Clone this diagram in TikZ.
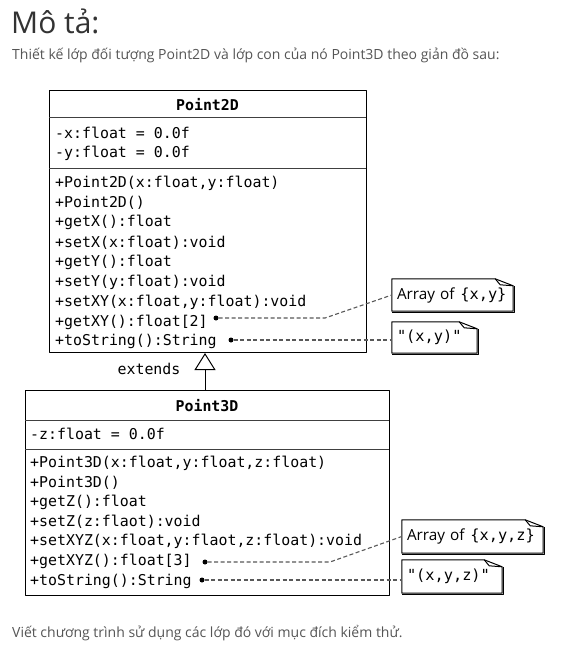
\documentclass[tikz,border=0pt]{standalone}
\usepackage{fontspec}
\setmainfont{Open Sans}
\setmonofont{DejaVu Sans Mono}
\usetikzlibrary{arrows.meta}
\definecolor{headgray}{HTML}{333333}
\definecolor{txtgray}{HTML}{555555}
\tikzset{
  mono/.style={font=\ttfamily\fontsize{14.9}{18}\selectfont, anchor=west, inner sep=0pt},
  head/.style={font=\ttfamily\bfseries\fontsize{14.9}{18}\selectfont, inner sep=0pt},
  classbox/.style={draw, line width=1pt, anchor=north west, inner sep=0pt},
  divider/.style={black!75, line width=1pt},
  dot/.style={circle, fill, inner sep=0pt, minimum size=5pt},
  link/.style={gray!70!black, line width=1.1pt, dash pattern=on 4pt off 2.5pt},
  notebox/.style={font=\fontsize{15.3}{18}\selectfont, inner xsep=5pt, inner ysep=0pt, align=left},
  notepen/.style={line width=1pt}
}
% note outline with the folded corner
\newcommand\notefold[1]{%
  \draw[notepen] (#1.south west) -- (#1.north west) -- ([xshift=-18pt]#1.north east)
    -- ([yshift=-7pt]#1.north east) -- (#1.south east) -- cycle;
  \draw[notepen] ([xshift=-18pt]#1.north east) -- ([xshift=-13pt,yshift=-6pt]#1.north east)
    -- ([yshift=-7pt]#1.north east);
  \draw[notepen] ([xshift=1pt,yshift=-7pt]#1.north east) -- ([xshift=1pt,yshift=-1pt]#1.south east)
    -- ([yshift=-1pt]#1.south west);}
\begin{document}
\begin{tikzpicture}[x=1pt, y=-1pt, line join=round]
  \useasboundingbox[fill=white] (0,0) rectangle (566,650);
  % texts of the page
  \node[anchor=base west, inner sep=0pt, text=headgray, font=\fontsize{30}{36}\selectfont] (title) at (11,34) {Mô tả:};
  \node[anchor=base west, inner sep=0pt, text=txtgray, font=\fontsize{14}{16}\selectfont] (intro) at (12,60) {Thiết kế lớp đối tượng Point2D và lớp con của nó Point3D theo giản đồ sau:};
  \node[anchor=base west, inner sep=0pt, text=txtgray, font=\fontsize{14}{16}\selectfont] (outro) at (12,637) {Viết chương trình sử dụng các lớp đó với mục đích kiểm thử.};
  % class Point2D
  \node[classbox, minimum width=317pt, minimum height=262pt] (p2d) at (49,90) {};
  \node[head] (p2dname) at (207.5,105) {Point2D};
  \draw[divider] (49,118) -- (366,118);
  \draw[divider] (49,168) -- (366,168);
  \node[mono] (a2dx) at (55,133) {-x:float = 0.0f};
  \node[mono] (a2dy) at (55,153) {-y:float = 0.0f};
  \foreach \txt [count=\i from 0] in {{+Point2D(x:float,y:float)}, {+Point2D()}, {+getX():float},
      {+setX(x:float):void}, {+getY():float}, {+setY(y:float):void},
      {+setXY(x:float,y:float):void}, {+getXY():float[2]}, {+toString():String}}
    \node[mono] (m2d\i) at (55,183+19.85*\i) {\txt};
  % class Point3D
  \node[classbox, minimum width=364pt, minimum height=205pt] (p3d) at (25,390) {};
  \node[head] (p3dname) at (207,406) {Point3D};
  \draw[divider] (25,420) -- (389,420);
  \draw[divider] (25,449) -- (389,449);
  \node[mono] (a3dz) at (30,434) {-z:float = 0.0f};
  \foreach \txt [count=\i from 0] in {{+Point3D(x:float,y:float,z:float)}, {+Point3D()}, {+getZ():float},
      {+setZ(z:flaot):void}, {+setXYZ(x:float,y:flaot,z:float):void}, {+getXYZ():float[3]},
      {+toString():String}}
    \node[mono] (m3d\i) at (30,463+19.7*\i) {\txt};
  % inheritance
  \draw[line width=1pt, -{Triangle[open, length=17pt, width=21pt]}] (p3d.north -| 205,0) -- (p2d.south -| 205,0);
  \node[mono, anchor=center] (ext) at (149,369) {extends};
  % notes
  \node[notebox, text width=111pt, minimum height=32pt] (n1) at (452.5,295) {Array of \texttt{\{x,y\}}};
  \node[notebox, text width=75pt, minimum height=31pt] (n2) at (434.5,337.5) {\texttt{"(x,y)"}};
  \node[notebox, text width=131pt, minimum height=33pt] (n3) at (472.5,536.5) {Array of \texttt{\{x,y,z\}}};
  \node[notebox, text width=90pt, minimum height=33pt] (n4) at (452,576.5) {\texttt{"(x,y,z)"}};
  \notefold{n1} \notefold{n2} \notefold{n3} \notefold{n4}
  % dots and dashed links
  \node[dot] (d1) at (216,318) {};
  \node[dot] (d2) at (231,340) {};
  \node[dot] (d3) at (205,562) {};
  \node[dot] (d4) at (202,580) {};
  \draw[link] (d1) -- ++(109,0) -- (n1.west);
  \draw[link] (d2) -- (d2 -| n2.west);
  \draw[link] (d3) -- ++(125,0) -- (n3.west);
  \draw[link] (d4) -- (d4 -| n4.west);
\end{tikzpicture}
\end{document}
